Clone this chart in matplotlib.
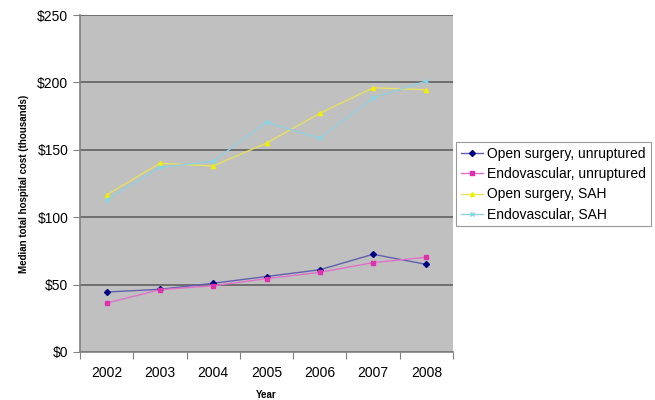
import matplotlib
matplotlib.use("Agg")
import matplotlib.pyplot as plt
import numpy as np

years = ["2002", "2003", "2004", "2005", "2006", "2007", "2008"]
open_unruptured = [44.5, 46.5, 51, 56, 61, 72.5, 65]
endo_unruptured = [36.3, 46.2, 49.2, 54.4, 59.1, 66.3, 70.3]
open_sah = [116.5, 140, 138, 155, 177, 196, 194.5]
endo_sah = [113, 137, 141.5, 170.5, 158.5, 188.5, 201]
yticks = [0, 50, 100, 150, 200, 250]
ytick_labels = ["$0", "$50", "$100", "$150", "$200", "$250"]

plt.rcParams['font.family'] = ['Liberation Sans', 'DejaVu Sans']

fig = plt.figure(figsize=(6.55, 4.0), dpi=100)
ax = fig.add_axes([80/655, 48/400, 373/655, 337/400])
ax.set_facecolor('#C0C0C0')

x = np.arange(len(years))
series = [
    (open_unruptured, "Open surgery, unruptured", '#000080', 'D', '#6060B0'),
    (endo_unruptured, "Endovascular, unruptured", '#E030B0', 's', '#E070C8'),
    (open_sah, "Open surgery, SAH", '#F0F000', '^', '#E8E060'),
    (endo_sah, "Endovascular, SAH", '#80D8E8', 'x', '#90D0E0'),
]
for vals, lab, mc, mk, lc in series:
    ax.plot(x, vals, color=lc, lw=1.0, marker=mk, markersize=3,
            markerfacecolor=mc, markeredgecolor=mc, markeredgewidth=1, label=lab)

ax.set_xlim(-0.5, len(years) - 0.5)
ax.set_ylim(0, 250)
ax.set_yticks(yticks)
ax.set_yticklabels(ytick_labels, fontsize=10)
ax.set_xticks(np.arange(-0.5, len(years), 1.0))
ax.set_xticklabels([])
ax.set_xticks(x, minor=True)
ax.set_xticklabels(years, minor=True, fontsize=10)
ax.tick_params(axis='x', which='minor', length=0, pad=10)
ax.tick_params(axis='x', which='major', length=5, color='#808080')
ax.tick_params(axis='y', length=5, color='#808080')
ax.yaxis.grid(True, color='#606060', lw=1.2)
ax.set_axisbelow(True)
for s in ['top', 'right']:
    ax.spines[s].set_visible(False)
for s in ['left', 'bottom']:
    ax.spines[s].set_color('#808080')
    ax.spines[s].set_linewidth(1.2)

ax.set_ylabel("Median total hospital cost (thousands)", fontsize=7, fontweight='bold', labelpad=6)
ax.set_xlabel("Year", fontsize=7, fontweight='bold', labelpad=7)

leg = ax.legend(loc='upper left', bbox_to_anchor=((456-80)/373, (352-142)/337), fontsize=10,
                frameon=True, fancybox=False, edgecolor='#808080', borderpad=0.35,
                handlelength=1.6, handletextpad=0.3, labelspacing=0.45, borderaxespad=0)
leg.get_frame().set_linewidth(0.8)

fig.savefig("out.png", dpi=100)
